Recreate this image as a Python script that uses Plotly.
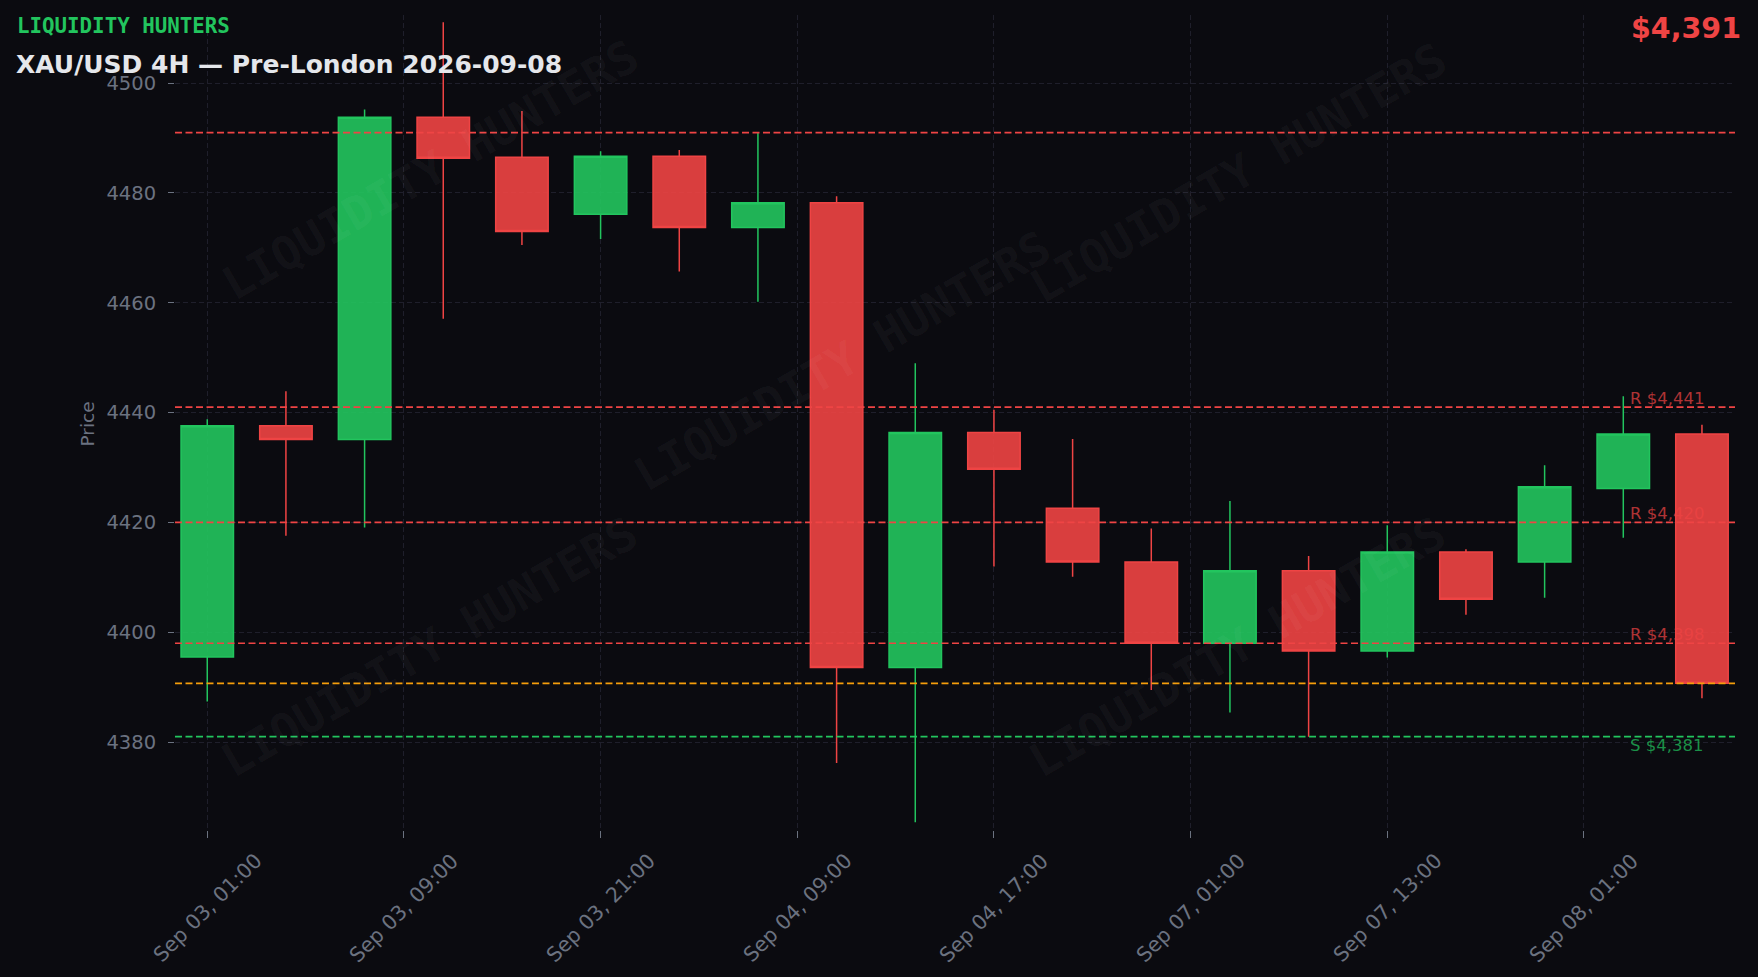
import plotly.graph_objects as go

# ---------------- data ----------------
candle_times = ["2026-09-03 01:00", "2026-09-03 05:00", "2026-09-03 09:00", "2026-09-03 13:00",
                "2026-09-03 17:00", "2026-09-03 21:00", "2026-09-04 01:00", "2026-09-04 05:00",
                "2026-09-04 09:00", "2026-09-04 13:00", "2026-09-04 17:00", "2026-09-04 21:00",
                "2026-09-07 01:00", "2026-09-07 05:00", "2026-09-07 09:00", "2026-09-07 13:00",
                "2026-09-07 17:00", "2026-09-07 21:00", "2026-09-08 01:00", "2026-09-08 05:00"]
opens = [4395.5, 4437.6, 4435.1, 4493.8, 4486.5, 4476.1, 4486.7, 4473.7, 4478.2, 4393.6,
         4436.4, 4422.6, 4412.8, 4398.0, 4411.2, 4396.6, 4414.6, 4412.8, 4426.2, 4436.1]
highs = [4438.8, 4443.9, 4495.2, 4511.1, 4494.9, 4487.6, 4487.8, 4491.0, 4479.4, 4449.0,
         4440.5, 4435.2, 4418.9, 4423.9, 4413.9, 4419.5, 4415.1, 4430.4, 4443.0, 4437.8]
lows = [4387.4, 4417.6, 4419.1, 4457.1, 4470.5, 4471.6, 4465.7, 4460.2, 4376.2, 4365.4,
        4412.0, 4410.1, 4389.5, 4385.4, 4381.0, 4395.4, 4403.2, 4406.3, 4417.2, 4388.0]
closes = [4437.6, 4435.1, 4493.8, 4486.3, 4473.0, 4486.7, 4473.7, 4478.2, 4393.6, 4436.4,
          4429.7, 4412.8, 4398.0, 4411.2, 4396.6, 4414.6, 4406.0, 4426.5, 4436.1, 4390.7]

tick_pos = [0, 2.5, 5, 7.5, 10, 12.5, 15, 17.5]
tick_labels = ["Sep 03, 01:00", "Sep 03, 09:00", "Sep 03, 21:00", "Sep 04, 09:00",
               "Sep 04, 17:00", "Sep 07, 01:00", "Sep 07, 13:00", "Sep 08, 01:00"]

resistance_levels = [4491, 4441, 4420, 4398]
resistance_labelled = [False, True, True, True]
support_levels = [4381]
current_price = 4390.7

# ---------------- style ----------------
BG = "#0b0b10"
GRID = "#1f1f2b"
TXT = "#6b7280"
GREEN = "#22c55e"
RED = "#ef4444"
ORANGE = "#f59e0b"
FONT = "DejaVu Sans"

W, H = 1758, 977
L, R, T, B = 174.5, 1735.0, 15.0, 830.0


def px(xp):
    return (xp - L) / (R - L)


def py(yp):
    return (B - yp) / (B - T)


x_idx = list(range(len(candle_times)))

fig = go.Figure()
fig.add_trace(go.Candlestick(
    x=x_idx, open=opens, high=highs, low=lows, close=closes,
    increasing=dict(line=dict(color=GREEN, width=1.5), fillcolor="rgba(34,197,94,0.9)"),
    decreasing=dict(line=dict(color=RED, width=1.5), fillcolor="rgba(239,68,68,0.9)"),
    whiskerwidth=0, showlegend=False, text=candle_times, hoverinfo="text+y",
))

shapes = []
annotations = []

for lvl, lab in zip(resistance_levels, resistance_labelled):
    shapes.append(dict(type="line", xref="paper", x0=0, x1=1, yref="y", y0=lvl, y1=lvl,
                       line=dict(color=RED, width=1.7, dash="7px,3.5px"), layer="above"))
    if lab:
        annotations.append(dict(xref="paper", yref="y", x=px(1628), y=lvl, text=f"R ${lvl:,.0f}",
                                showarrow=False, xanchor="left", yanchor="bottom", yshift=-3,
                                font=dict(family=FONT, size=16.5, color="rgba(239,68,68,0.72)")))
for lvl in support_levels:
    shapes.append(dict(type="line", xref="paper", x0=0, x1=1, yref="y", y0=lvl, y1=lvl,
                       line=dict(color=GREEN, width=1.7, dash="7px,3.5px"), layer="above"))
    annotations.append(dict(xref="paper", yref="y", x=px(1628), y=lvl, text=f"S ${lvl:,.0f}",
                            showarrow=False, xanchor="left", yanchor="top", yshift=3,
                            font=dict(family=FONT, size=16.5, color="rgba(34,197,94,0.72)")))
shapes.append(dict(type="line", xref="paper", x0=0, x1=1, yref="y", y0=current_price, y1=current_price,
                   line=dict(color=ORANGE, width=1.7, dash="7px,3.5px"), layer="above"))

# watermarks
for cx, cy in [(430, 170), (842, 361), (1238, 173), (429, 647), (1237, 647)]:
    annotations.append(dict(xref="paper", yref="paper", x=px(cx), y=py(cy), text="LIQUIDITY HUNTERS",
                            showarrow=False, textangle=-30, xanchor="center", yanchor="middle",
                            font=dict(family="DejaVu Sans Mono", size=46, color="rgba(255,255,255,0.045)",
                                      weight="bold")))

# x tick labels (centred, rotated 45°)
for tp, tl in zip(tick_pos, tick_labels):
    annotations.append(dict(xref="x", yref="paper", x=tp, y=py(846), text=tl, showarrow=False,
                            textangle=-45, xanchor="center", yanchor="top",
                            font=dict(family=FONT, size=20.5, color=TXT)))

# headers
annotations.append(dict(xref="paper", yref="paper", x=px(14), y=py(25.5), text="<b>LIQUIDITY HUNTERS</b>",
                        showarrow=False, xanchor="left", yanchor="middle",
                        font=dict(family="DejaVu Sans Mono", size=20.8, color=GREEN)))
annotations.append(dict(xref="paper", yref="paper", x=px(13), y=py(65), text="<b>XAU/USD 4H — Pre-London 2026-09-08</b>",
                        showarrow=False, xanchor="left", yanchor="middle",
                        font=dict(family=FONT, size=25, color="#e5e7eb")))
annotations.append(dict(xref="paper", yref="paper", x=px(1743), y=py(28), text=f"<b>${current_price:,.0f}</b>",
                        showarrow=False, xanchor="right", yanchor="middle",
                        font=dict(family=FONT, size=28.5, color=RED)))
annotations.append(dict(xref="paper", yref="paper", x=px(86), y=py(424), text="Price", textangle=-90,
                        showarrow=False, xanchor="center", yanchor="middle",
                        font=dict(family=FONT, size=18.5, color=TXT)))

fig.update_layout(
    width=W, height=H,
    margin=dict(l=L, r=W - R, t=T, b=H - B, pad=0),
    paper_bgcolor=BG, plot_bgcolor=BG,
    font=dict(family=FONT, color=TXT),
    boxgap=0.333, boxgroupgap=0,
    shapes=shapes, annotations=annotations,
    showlegend=False,
    xaxis=dict(range=[-0.41, 19.42], tickvals=tick_pos, showticklabels=False,
               ticks="outside", ticklen=7, tickcolor=TXT, tickwidth=1,
               showgrid=True, gridcolor=GRID, griddash="5px,3px", gridwidth=1,
               zeroline=False, showline=False, rangeslider=dict(visible=False), fixedrange=True),
    yaxis=dict(range=[4364.0, 4512.4], tickvals=[4380, 4400, 4420, 4440, 4460, 4480, 4500],
               ticks="outside", ticklen=6, tickcolor=TXT, tickwidth=1, ticklabelstandoff=8,
               tickfont=dict(family=FONT, size=19.5, color=TXT),
               showgrid=True, gridcolor=GRID, griddash="5px,3px", gridwidth=1,
               zeroline=False, showline=False, fixedrange=True),
)

fig.write_html("out.html", config={"displayModeBar": False},
               post_script="document.body.style.margin='0';document.body.style.background='" + BG + "';")
